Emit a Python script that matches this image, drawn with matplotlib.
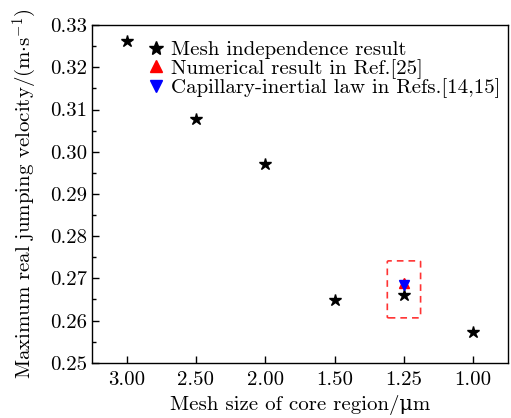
import matplotlib
matplotlib.use('Agg')
import matplotlib.pyplot as plt
from matplotlib.patches import FancyBboxPatch

plt.rcParams['font.family'] = ['cmr10', 'DejaVu Serif']
plt.rcParams['mathtext.fontset'] = 'cm'
plt.rcParams['axes.unicode_minus'] = False

# Data (x axis is categorical, shown in this order)
mesh_labels = ['3.00', '2.50', '2.00', '1.50', '1.25', '1.00']
mesh_velocity = [0.3263, 0.3078, 0.2970, 0.2649, 0.2661, 0.2574]
ref25_label = '1.25'
ref25_velocity = 0.2689
law_label = '1.25'
law_velocity = 0.2685

y_ticks = [0.25, 0.26, 0.27, 0.28, 0.29, 0.30, 0.31, 0.32, 0.33]

fs = 15

fig = plt.figure(figsize=(5.11, 4.18), dpi=100)
ax = fig.add_axes([0.180, 0.132, 0.814, 0.808])

pos = list(range(len(mesh_labels)))
ax.plot(pos, mesh_velocity, linestyle='none', marker='*', color='black',
        markersize=9, label='Mesh independence result', zorder=3)
ax.plot(mesh_labels.index(ref25_label), ref25_velocity, linestyle='none', marker='^',
        color='red', markersize=7, label='Numerical result in Ref.[25]', zorder=4)
ax.plot(mesh_labels.index(law_label), law_velocity, linestyle='none', marker='v',
        color='blue', markersize=7, label='Capillary-inertial law in Refs.[14,15]', zorder=5)

# Dashed highlight box around the comparison point
i = mesh_labels.index('1.25')
box = FancyBboxPatch((i - 0.22, 0.2609), 0.44, 0.0130,
                     boxstyle='round,pad=0.02,rounding_size=0.02',
                     mutation_aspect=0.0125,
                     fill=False, edgecolor='#ff3333', linestyle=(0, (4, 3)),
                     linewidth=1.2, zorder=2)
ax.add_patch(box)

ax.set_xlim(-0.5, len(mesh_labels) - 0.5)
ax.set_ylim(0.25, 0.33)
ax.set_xticks(pos)
ax.set_xticklabels(mesh_labels)
ax.set_yticks(y_ticks)
ax.set_yticklabels([f'{v:.2f}' for v in y_ticks])
ax.set_yticks([v + 0.005 for v in y_ticks[:-1]], minor=True)

ax.tick_params(axis='both', which='major', direction='in', length=5, width=1,
               labelsize=fs, top=False, right=False)
ax.tick_params(axis='y', which='minor', direction='in', length=3, width=1)
ax.tick_params(axis='x', pad=6)
for s in ax.spines.values():
    s.set_linewidth(1.0)

ax.set_xlabel('Mesh size of core region/μm', fontsize=fs, labelpad=4)
ax.set_ylabel(r'Maximum real jumping velocity/(m$\cdot$s$^{-1}$)', fontsize=fs, labelpad=8)

ax.legend(loc='upper left', bbox_to_anchor=(0.098, 0.992), frameon=False,
          fontsize=fs, handletextpad=0.25, labelspacing=0.0, borderaxespad=0.2,
          handlelength=1.0, markerscale=1.15)

fig.savefig('out.png', dpi=100)
